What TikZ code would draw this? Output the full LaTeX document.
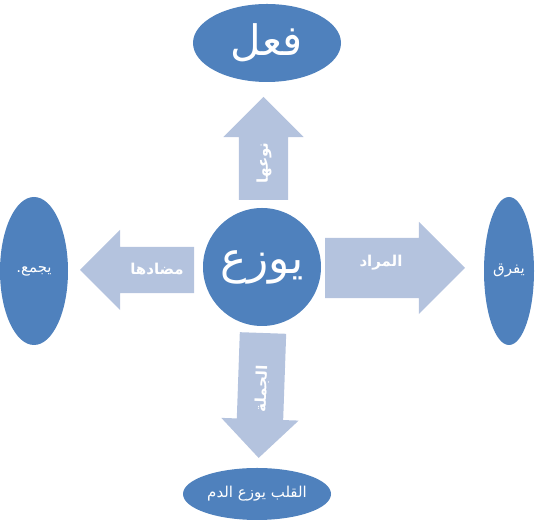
\documentclass[tikz,border=0pt]{standalone}
\usepackage{fontspec}
\usepackage{tikz}
\usetikzlibrary{shapes.arrows,shapes.geometric}
\newfontfamily\arabicfont[Script=Arabic]{DejaVu Sans}
\TeXXeTstate=1
\definecolor{ovalcol}{HTML}{4F81BD}
\definecolor{arrowcol}{HTML}{B4C3DE}
\tikzset{
  ovalbox/.style   = {ellipse, fill=ovalcol, draw=none, inner xsep=-10pt, inner ysep=0pt,
                      text=white, font=\arabicfont\fontsize{15}{18}\selectfont},
  hubcircle/.style = {circle, fill=ovalcol, draw=none, inner sep=-10pt,
                      minimum size=118pt, text=white,
                      font=\arabicfont\fontsize{44}{50}\selectfont},
  blockarrow/.style = {single arrow, fill=arrowcol, draw=none, outer sep=0pt,
                      inner xsep=0pt, anchor=tail},
  arrowlabel/.style = {text=white, inner sep=0pt,
                      font=\arabicfont\bfseries\fontsize{15}{18}\selectfont},
}
\newcommand{\rtl}[1]{\beginR #1\endR}

\begin{document}
\begin{tikzpicture}[x=1pt, y=1pt]
    \useasboundingbox (0,0) rectangle (536,529);

    % outer ovals
    \node[ovalbox, minimum width=148pt, minimum height=78pt,
          font=\arabicfont\fontsize{42}{48}\selectfont] (act) at (267,486) {\rtl{فعل}};
    \node[ovalbox, minimum width=68pt, minimum height=148pt] (gather) at (34,258) {\rtl{يجمع.}};
    \node[ovalbox, minimum width=50pt, minimum height=148pt] (split) at (509,258) {\rtl{يفرق}};
    \node[ovalbox, minimum width=148pt, minimum height=52pt] (heart) at (257,35) {\rtl{القلب يوزع الدم}};

    % hub
    \node[hubcircle] (hub) at (262,262) {\rtl{يوزع}};

    % block arrows
    \node[blockarrow, rotate=90, minimum height=103pt, inner ysep=24.5pt,
          single arrow head extend=15.5pt] (upA) at (263.5,329) {};
    \node[blockarrow, rotate=268, minimum height=125pt, inner ysep=23pt,
          single arrow head extend=15.5pt] (downA) at (263,196) {};
    \node[blockarrow, rotate=180, minimum height=114pt, inner ysep=23pt,
          single arrow head extend=17pt] (leftA) at (194,259) {};
    \node[blockarrow, minimum height=140pt, inner ysep=30pt,
          single arrow head extend=16pt] (rightA) at (325,261) {};

    % labels
    \node[arrowlabel, rotate=90] (kind) at (264,366) {\rtl{نوعها}};
    \node[arrowlabel, rotate=88] (sentence) at (262,140) {\rtl{الجملة}};
    \node[arrowlabel] (opposite) at (157,260) {\rtl{مضادها}};
    \node[arrowlabel] (meant) at (381,266) {\rtl{المراد}};
\end{tikzpicture}
\end{document}
